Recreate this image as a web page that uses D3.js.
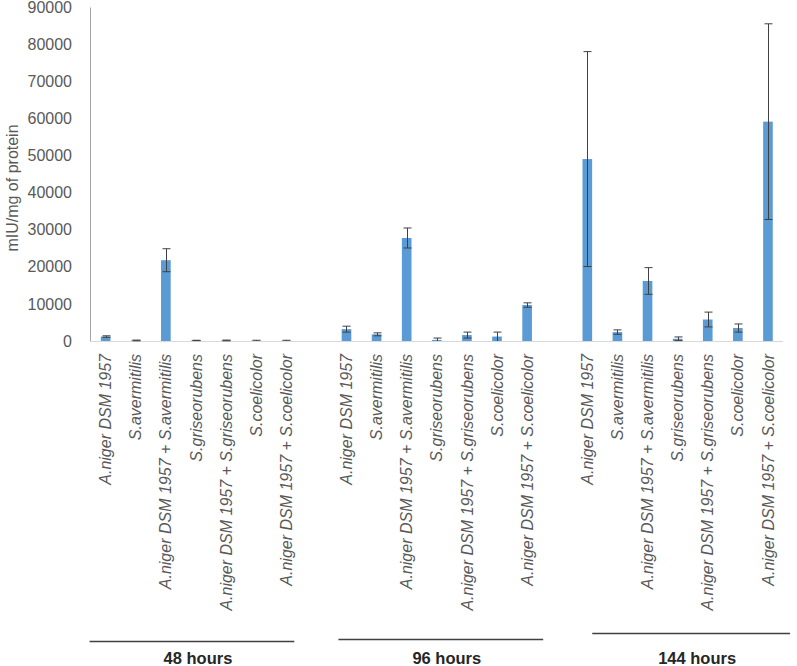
<!DOCTYPE html>
<head>
    <script src="https://d3js.org/d3.v7.min.js"></script>
    <title>mIU/mg of protein</title>
    <style>
        body { margin: 0; background: white; }
        text { font-family: "Liberation Sans", Arial, sans-serif; fill: #595959; }
    </style>
</head>
<body>
<svg width="797" height="666" class="chart" style="background-color: white"></svg>
<script>
    const strains = ["A.niger DSM 1957", "S.avermitilis", "A.niger DSM 1957 + S.avermitilis",
        "S.griseorubens", "A.niger DSM 1957 + S.griseorubens", "S.coelicolor",
        "A.niger DSM 1957 + S.coelicolor"];
    const times = ["48 hours", "96 hours", "144 hours"];

    const values48 = [1200, 150, 21800, 150, 150, 100, 100];
    const err48 = [200, 100, 3100, 50, 100, 100, 100];
    const values96 = [3200, 1800, 27800, 300, 1600, 1200, 9700];
    const err96 = [800, 400, 2700, 500, 800, 1200, 600];
    const values144 = [49100, 2400, 16200, 600, 5800, 3500, 59200];
    const err144 = [29000, 600, 3600, 500, 2000, 1100, 26400];

    const yTicks = [0, 10000, 20000, 30000, 40000, 50000, 60000, 70000, 80000, 90000];

    const allValues = [values48, values96, values144];
    const allErrors = [err48, err96, err144];

    // flatten into rows, with an empty slot between the time groups
    const slots = [];
    const data = [];
    times.forEach(function(t, gi){
        if (gi > 0) slots.push("gap" + gi);
        strains.forEach(function(s, si){
            const key = t + "|" + s;
            slots.push(key);
            data.push({key: key, time: t, strain: s, value: allValues[gi][si], err: allErrors[gi][si]});
        });
    });

    const svg = d3.select(".chart");

    const x = d3.scaleBand()
        .domain(slots)
        .range([90.6, 783])
        .paddingInner(0.68)
        .paddingOuter(0.34);

    const y = d3.scaleLinear()
        .domain([0, 90000])
        .range([341, 7.5]);

    // y axis line + labels
    svg.append("line")
        .attr("x1", 90.5).attr("x2", 90.5)
        .attr("y1", y(90000)).attr("y2", y(0))
        .attr("stroke", "#a6a6a6").attr("stroke-width", 1);

    svg.append("g")
        .selectAll("text")
        .data(yTicks)
        .enter()
        .append("text")
        .attr("x", 72)
        .attr("y", function(d){ return y(d); })
        .attr("dy", "0.35em")
        .attr("text-anchor", "end")
        .style("font-size", "16px")
        .text(function(d){ return d; });

    svg.append("text")
        .attr("transform", "translate(12," + 188 + ") rotate(-90)")
        .attr("text-anchor", "middle")
        .attr("dy", "0.35em")
        .style("font-size", "16px")
        .text("mIU/mg of protein");

    // bars
    svg.append("g")
        .selectAll("rect")
        .data(data)
        .enter()
        .append("rect")
        .attr("x", function(d){ return x(d.key); })
        .attr("width", x.bandwidth())
        .attr("y", function(d){ return y(d.value); })
        .attr("height", function(d){ return y(0) - y(d.value); })
        .attr("fill", "#5b9bd5");

    // x axis baseline
    svg.append("line")
        .attr("x1", 90).attr("x2", 783)
        .attr("y1", y(0) + 0.5).attr("y2", y(0) + 0.5)
        .attr("stroke", "#d9d9d9").attr("stroke-width", 1);

    // error bars
    const errG = svg.append("g").attr("stroke", "#404040").attr("stroke-width", 1);
    data.forEach(function(d){
        const cx = Math.round(x(d.key) + x.bandwidth() / 2) + 0.5;
        const top = y(d.value + d.err);
        const bot = y(Math.max(0, d.value - d.err));
        errG.append("line").attr("x1", cx).attr("x2", cx).attr("y1", top).attr("y2", bot);
        errG.append("line").attr("x1", cx - 4).attr("x2", cx + 4).attr("y1", top).attr("y2", top);
        if (d.value - d.err > 0)
            errG.append("line").attr("x1", cx - 4).attr("x2", cx + 4).attr("y1", bot).attr("y2", bot);
    });

    // category labels
    svg.append("g")
        .selectAll("text")
        .data(data)
        .enter()
        .append("text")
        .attr("transform", function(d){
            return "translate(" + (x(d.key) + x.bandwidth() / 2) + ",354) rotate(-90)";
        })
        .attr("text-anchor", "end")
        .attr("dy", "0.35em")
        .style("font-size", "16px")
        .style("font-style", "italic")
        .text(function(d){ return d.strain; });

    // group lines and labels (the source figure has them slightly shifted per group)
    const lineStartShift = [-1, 7, 20];
    const lineEndShift = [-7, 1, 7];
    const lineY = [641, 639, 633];
    times.forEach(function(t, gi){
        const first = x(t + "|" + strains[0]) - x.step() * 0.34;
        const last = x(t + "|" + strains[strains.length - 1]) + x.bandwidth() + x.step() * 0.34;
        const x1 = first + lineStartShift[gi];
        const x2 = last + lineEndShift[gi];
        svg.append("line")
            .attr("x1", x1).attr("x2", x2)
            .attr("y1", lineY[gi] + 0.5).attr("y2", lineY[gi] + 0.5)
            .attr("stroke", "#404040").attr("stroke-width", 1.3);
        svg.append("text")
            .attr("x", (x1 + x2) / 2 + 6)
            .attr("y", 664)
            .attr("text-anchor", "middle")
            .style("font-size", "16.5px")
            .style("font-weight", "bold")
            .style("fill", "#262626")
            .text(t);
    });
</script>
</body>
